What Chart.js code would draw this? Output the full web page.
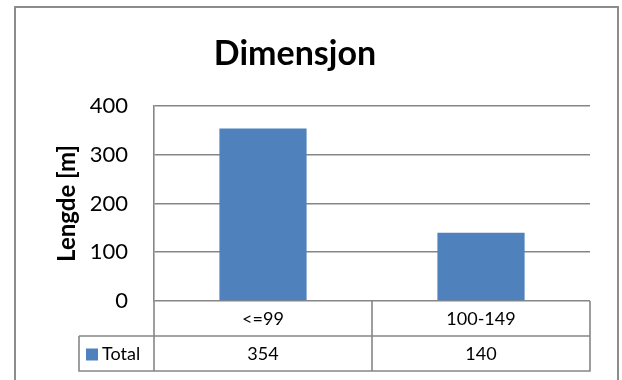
<!DOCTYPE html>
<html>
<head>
<meta charset="utf-8">
<script src="https://cdn.jsdelivr.net/npm/chart.js@4"></script>
<style>
  html, body { margin: 0; padding: 0; background: #fff; overflow: hidden; }
  #wrap { position: relative; width: 622px; height: 380px; }
  #frame {
    position: absolute; left: 14px; top: 6px; width: 605px; height: 420px;
    box-sizing: border-box; border: 2px solid #8c8c8c;
  }
  #chart { position: absolute; left: 0; top: 0; }
</style>
</head>
<body>
<div id="wrap">
  <div id="frame"></div>
  <canvas id="chart" width="622" height="380"></canvas>
</div>
<script>
const chartTitle = 'Dimensjon';
const yAxisTitle = 'Lengde [m]';
const seriesName = 'Total';
const categories = ['<=99', '100-149'];
const totals = [354, 140];
const yTicks = [0, 100, 200, 300, 400];

const barColor = '#4f81bd';
const lineColor = '#868686';
const fontFamily = 'Lato, "Open Sans", sans-serif';

// Excel-style data table under the plot, laid out from the x scale
const dataTable = {
    id: 'dataTable',
    afterDraw(chart) {
        const ctx = chart.ctx;
        const x = chart.scales.x;
        const area = chart.chartArea;
        const top = area.bottom;
        const rowH = (x.bottom - x.top) / 2;
        const mid = top + rowH;
        const bottom = top + rowH * 2;
        const legendLeft = 79;

        const half = (x.getPixelForValue(1) - x.getPixelForValue(0)) / 2;
        const edges = [x.getPixelForValue(0) - half];
        categories.forEach((c, i) => edges.push(x.getPixelForValue(i) + half));
        const right = edges[edges.length - 1];

        ctx.save();
        ctx.strokeStyle = lineColor;
        ctx.lineWidth = 1.6;
        ctx.beginPath();
        ctx.moveTo(legendLeft, mid); ctx.lineTo(right, mid);
        ctx.moveTo(legendLeft, bottom); ctx.lineTo(right, bottom);
        edges.forEach(e => {
            ctx.moveTo(e, top); ctx.lineTo(e, bottom + 0.8);
        });
        ctx.moveTo(legendLeft, mid); ctx.lineTo(legendLeft, bottom + 0.8);
        ctx.stroke();

        ctx.fillStyle = '#000';
        ctx.font = '18px ' + fontFamily;
        ctx.textAlign = 'center';
        ctx.textBaseline = 'middle';
        categories.forEach((c, i) => {
            const cx = x.getPixelForValue(i);
            ctx.fillText(c, cx, top + rowH / 2 + 1);
            ctx.fillText(String(totals[i]), cx, mid + rowH / 2 + 1);
        });

        ctx.fillStyle = barColor;
        ctx.fillRect(86, mid + rowH / 2 - 5, 12, 12);
        ctx.fillStyle = '#000';
        ctx.textAlign = 'left';
        ctx.fillText(seriesName, 102, mid + rowH / 2 + 1);
        ctx.restore();
    }
};

new Chart(document.getElementById('chart'), {
    type: 'bar',
    data: {
        labels: categories,
        datasets: [{
            label: seriesName,
            data: totals,
            backgroundColor: barColor,
            borderWidth: 0,
            barPercentage: 0.4,
            categoryPercentage: 1.0
        }]
    },
    options: {
        responsive: false,
        animation: false,
        layout: {
            padding: { top: 0, right: 32, bottom: 9, left: 0 }
        },
        plugins: {
            legend: { display: false },
            tooltip: { enabled: false },
            title: {
                display: true,
                text: chartTitle,
                color: '#000',
                font: { family: fontFamily, size: 34, weight: 'bold', lineHeight: 1.2 },
                padding: { top: 34, bottom: 31.2 }
            }
        },
        scales: {
            x: {
                grid: { display: false },
                border: { display: false },
                ticks: { display: false },
                afterFit(scale) { scale.height = 70; }
            },
            y: {
                min: 0,
                max: 400,
                afterBuildTicks(scale) { scale.ticks = yTicks.map(v => ({ value: v })); },
                afterFit(scale) { scale.width = 154; },
                grid: { color: lineColor, lineWidth: 1.6, drawTicks: false },
                border: { display: true, color: lineColor, width: 1.6 },
                ticks: {
                    color: '#000',
                    padding: 26,
                    font: { family: fontFamily, size: 22 }
                },
                title: {
                    display: true,
                    text: yAxisTitle,
                    color: '#000',
                    font: { family: fontFamily, size: 24, weight: 'bold', lineHeight: 1.2 },
                    padding: { top: 52.6, bottom: 0 }
                }
            }
        }
    },
    plugins: [dataTable]
});
</script>
</body>
</html>
